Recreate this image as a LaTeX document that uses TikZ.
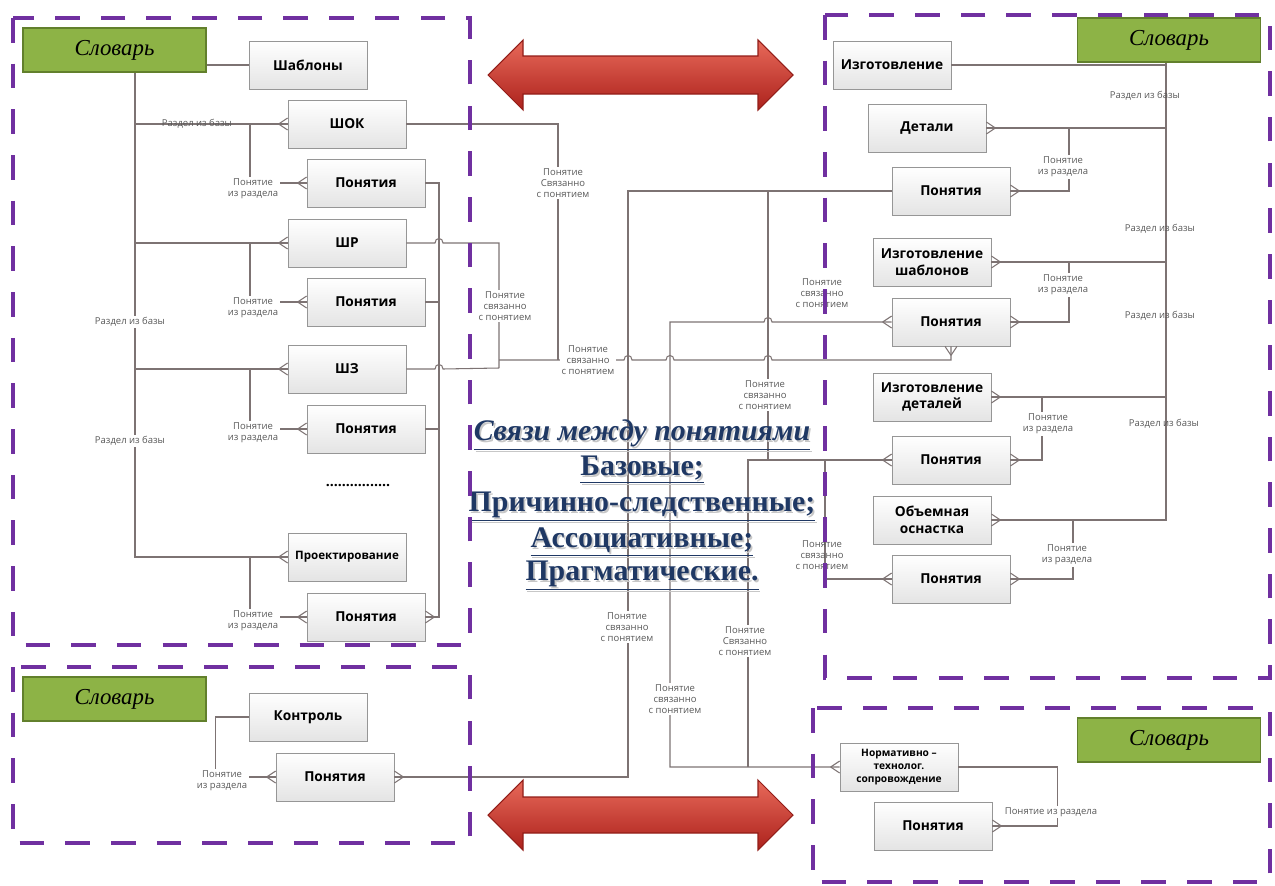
\documentclass[tikz,border=0pt]{standalone}
\usepackage{fontspec}
\setmainfont{Liberation Serif}
\newfontfamily\boxfont{Open Sans}
\usetikzlibrary{calc,shadows}
\definecolor{zonepurple}{RGB}{112,48,160}
\definecolor{dictgreen}{RGB}{141,179,70}
\definecolor{dictedge}{RGB}{98,128,44}
\definecolor{linkgray}{RGB}{125,115,115}
\definecolor{entedge}{RGB}{150,150,150}
\definecolor{entbottom}{RGB}{228,228,228}
\definecolor{titleblue}{RGB}{31,56,100}
\definecolor{arrowtop}{RGB}{232,105,90}
\definecolor{arrowbot}{RGB}{172,34,28}
\tikzset{
  entity/.style={draw=entedge, top color=white, bottom color=entbottom,
    minimum width=2.36cm, minimum height=0.96cm, inner sep=1pt, align=center,
    font=\boxfont\bfseries\fontsize{7.8}{9.6}\selectfont,
    drop shadow={opacity=0.25,shadow xshift=0.7pt,shadow yshift=-0.7pt}},
  dict/.style={draw=dictedge, fill=dictgreen, line width=1pt,
    minimum width=3.66cm, minimum height=0.88cm,
    font=\itshape\fontsize{13}{15}\selectfont},
  zone/.style={draw=zonepurple, line width=2.8pt, dash pattern=on 14pt off 12pt},
  link/.style={draw=linkgray, line width=0.6pt},
  rel/.style={font=\boxfont\fontsize{5.4}{6.4}\selectfont, text=black!65, fill=white,
    inner sep=1pt, align=center},
  relx/.style={rel, fill=none},
  hop/.style={insert path={.. controls +(0,-6) and +(0,-6) .. ++(8,0)}},
  bigarrow/.style={top color=arrowtop, bottom color=arrowbot, draw=arrowbot!85!black, line width=0.6pt},
  title/.style={font=\bfseries\fontsize{17}{20}\selectfont, text=titleblue},
  titleshade/.style={title, text=black!22, xshift=1pt, yshift=-1pt}
}
\newcommand{\footW}[1]{\draw[link] ($(#1.west)+(-9,0)$) -- ($(#1.west)+(0,-6)$) ($(#1.west)+(-9,0)$) -- ($(#1.west)+(0,6)$);}
\newcommand{\footE}[1]{\draw[link] ($(#1.east)+(9,0)$) -- ($(#1.east)+(0,-6)$) ($(#1.east)+(9,0)$) -- ($(#1.east)+(0,6)$);}
\newcommand{\footS}[1]{\draw[link] ($(#1.south)+(0,9)$) -- ($(#1.south)+(-6,0)$) ($(#1.south)+(0,9)$) -- ($(#1.south)+(6,0)$);}

\begin{document}
\begin{tikzpicture}[x=0.02cm,y=-0.02cm]
\useasboundingbox (0,0) rectangle (1275,886);

\path[bigarrow] (488,75) -- (523,40) -- (523,56) -- (758,56) -- (758,40) -- (793,75)
  -- (758,110) -- (758,94) -- (523,94) -- (523,110) -- cycle;
\path[bigarrow] (488,815) -- (523,780) -- (523,797) -- (758,797) -- (758,780) -- (793,815)
  -- (758,850) -- (758,833) -- (523,833) -- (523,850) -- cycle;

\node[dict] (slovL) at (114.5,50) {Словарь};
\node[entity] (shab) at (308,65) {Шаблоны};
\node[entity] (shok) at (347,124) {ШОК};
\node[entity] (ponA) at (366,183) {Понятия};
\node[entity] (shr) at (347,243) {ШР};
\node[entity] (ponB) at (366,302) {Понятия};
\node[entity] (shz) at (347,369) {ШЗ};
\node[entity] (ponC) at (366,429) {Понятия};
\node[font=\boxfont\bfseries\fontsize{8}{10}\selectfont] (dots) at (358,486) {................};
\node[entity, font=\boxfont\bfseries\fontsize{6.6}{8}\selectfont] (proekt) at (347,557) {Проектирование};
\node[entity] (ponD) at (366,617) {Понятия};

\node[dict] (slovBL) at (114.5,699) {Словарь};
\node[entity] (kontr) at (308,717) {Контроль};
\node[entity] (ponE) at (335,777) {Понятия};

\node[dict] (slovTR) at (1169,40) {Словарь};
\node[entity] (izg) at (892,65) {Изготовление};
\node[entity] (det) at (927,128) {Детали};
\node[entity] (ponF) at (951,191) {Понятия};
\node[entity] (izgSh) at (932,262) {Изготовление\\шаблонов};
\node[entity] (ponG) at (951,322) {Понятия};
\node[entity] (izgDet) at (932,397) {Изготовление\\деталей};
\node[entity] (ponH) at (951,460) {Понятия};
\node[entity] (objem) at (932,520) {Объемная\\оснастка};
\node[entity] (ponI) at (951,579) {Понятия};

\node[dict] (slovBR) at (1169,740) {Словарь};
\node[entity, font=\boxfont\bfseries\fontsize{5.8}{7.2}\selectfont] (norm) at (899,767) {Нормативно –\\технолог.\\сопровождение};
\node[entity] (ponJ) at (933,826) {Понятия};

\coordinate (trL) at (135,0);
\coordinate (brL) at (250,0);
\coordinate (busL) at (439,0);
\coordinate (vA) at (628,0);
\coordinate (vB) at (670,0);
\coordinate (vD) at (748,0);
\coordinate (vC) at (768,0);
\coordinate (vE) at (825,0);
\coordinate (trR) at (1166,0);
\coordinate (jA) at (558,360);
\coordinate (mainL) at (499,360);

\draw[link] (shab.west -| slovL.east) -- (shab.west);
\draw[link] (slovL.south -| trL) |- (proekt.west);
\draw[link] (trL |- shok) -- (shok.west);
\draw[link] (trL |- shr) -- (shr.west);
\draw[link] (trL |- shz) -- (shz.west);
\draw[link] (brL |- shok) |- (ponA.west);
\draw[link] (brL |- shr) |- (ponB.west);
\draw[link] (brL |- shz) |- (ponC.west);
\draw[link] (brL |- proekt) |- (ponD.west);
\draw[link] (ponA.east) -| (busL |- ponD) -- (ponD.east);
\draw[link] (ponB.east) -- (busL |- ponB);
\draw[link] (ponC.east) -- (busL |- ponC);

\draw[link] (kontr.west) -| ($(ponE.west)+(-60,0)$) -- (ponE.west);

\draw[link] (shok.east) -| (jA);
\draw[link] (shr.east) -- ($(busL |- shr)+(-4,0)$) [hop] -- (499,243) -- (499,368);
\draw[link] (shz.east) -- ($(busL |- shz)+(-4,0)$) [hop] -- (499,368);
\draw[link] (mainL) -- (624,360) [hop] -- (666,360) [hop] -- (764,360) [hop] -| (ponG.south);

\draw[link] (ponF.west) -| (vA |- ponE) -- (ponE.east);
\draw[link] (vC |- ponF) -- (vC |- ponH);
\draw[link] (norm.west) -| (vB |- ponG) -- (764,322) [hop] -- (ponG.west);
\draw[link] (ponH.west) -| (vD |- norm);
\draw[link] (vE |- ponH) |- (ponI.west);

\draw[link] (slovTR.south -| trR) |- (objem.east);
\draw[link] (izg.east) -- (izg.east -| trR);
\draw[link] (det.east) -- (det.east -| trR);
\draw[link] (izgSh.east) -- (izgSh.east -| trR);
\draw[link] (izgDet.east) -- (izgDet.east -| trR);
\draw[link] (det.east -| 1069,0) |- (ponF.east);
\draw[link] (izgSh.east -| 1069,0) |- (ponG.east);
\draw[link] (izgDet.east -| 1042,0) |- (ponH.east);
\draw[link] (objem.east -| 1073,0) |- (ponI.east);
\draw[link] (norm.east) -| ($(ponJ.east)+(65,0)$) -- (ponJ.east);

\footW{shok} \footW{shr} \footW{shz} \footW{proekt}
\footW{ponA} \footW{ponB} \footW{ponC} \footW{ponD} \footE{ponD}
\footW{ponE} \footE{ponE}
\footE{det} \footE{izgSh} \footE{izgDet} \footE{objem}
\footE{ponF} \footE{ponG} \footE{ponH} \footE{ponI}
\footW{ponG} \footW{ponH} \footW{ponI} \footS{ponG}
\footW{norm} \footE{ponJ}

\node[relx] at (197,124) {Раздел из базы};
\node[rel] at (130,322) {Раздел из базы};
\node[rel] at (130,441) {Раздел из базы};
\node[rel] at (253,189) {Понятие\\из раздела};
\node[rel] at (253,308) {Понятие\\из раздела};
\node[rel] at (253,433) {Понятие\\из раздела};
\node[rel] at (253,621) {Понятие\\из раздела};
\node[rel] at (222,781) {Понятие\\из раздела};

\node[rel] at (563,183) {Понятие\\Связанно\\с понятием};
\node[rel] at (505,306) {Понятие\\связанно\\с понятием};
\node[rel] at (588,360) {Понятие\\связанно\\с понятием};
\node[rel] at (765,395) {Понятие\\связанно\\с понятием};
\node[relx] at (822,293) {Понятие\\связанно\\с понятием};
\node[relx] at (822,555) {Понятие\\связанно\\с понятием};
\node[rel] at (627,627) {Понятие\\связанно\\с понятием};
\node[rel] at (675,699) {Понятие\\связанно\\с понятием};
\node[rel] at (745,641) {Понятие\\Связанно\\с понятием};

\node[relx] at (1145,96) {Раздел из базы};
\node[relx] at (1160,229) {Раздел из базы};
\node[relx] at (1160,316) {Раздел из базы};
\node[relx] at (1164,424) {Раздел из базы};
\node[rel] at (1063,167) {Понятие\\из раздела};
\node[rel] at (1063,285) {Понятие\\из раздела};
\node[rel] at (1048,424) {Понятие\\из раздела};
\node[rel] at (1067,555) {Понятие\\из раздела};
\node[rel] at (1051,812) {Понятие из раздела};

\node[titleshade] at (642,435) {\underline{\textit{Связи между понятиями}}};
\node[titleshade] at (642,470) {\underline{Базовые;}};
\node[titleshade] at (642,507) {\underline{Причинно-следственные;}};
\node[titleshade] at (642,542) {\underline{Ассоциативные;}};
\node[titleshade] at (642,576) {\underline{Прагматические.}};
\node[title] (ttl) at (642,435) {\underline{\textit{Связи между понятиями}}};
\node[title] (kindA) at (642,470) {\underline{Базовые;}};
\node[title] (kindB) at (642,507) {\underline{Причинно-следственные;}};
\node[title] (kindC) at (642,542) {\underline{Ассоциативные;}};
\node[title] (kindD) at (642,576) {\underline{Прагматические.}};

\draw[zone] (13,18) rectangle (470,645);
\draw[zone] (13,667) rectangle (470,843);
\draw[zone] (825,15) rectangle (1270,678);
\draw[zone] (813,708) rectangle (1270,882);
\end{tikzpicture}
\end{document}
